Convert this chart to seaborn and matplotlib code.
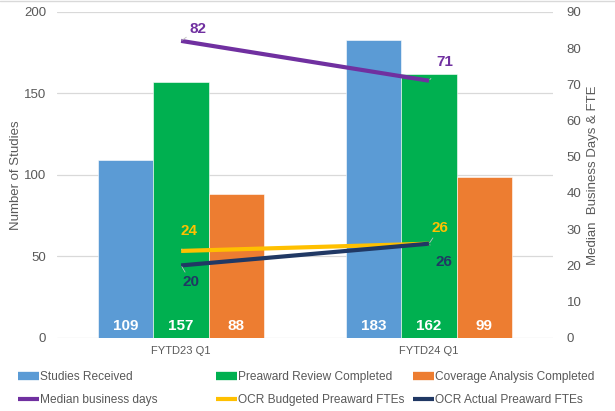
import pandas as pd
import seaborn as sns
import matplotlib.pyplot as plt
from matplotlib.lines import Line2D

# data
quarters = ['FYTD23 Q1', 'FYTD24 Q1']
bar_series = ['Studies Received', 'Preaward Review Completed', 'Coverage Analysis Completed']
studies_received = [109, 183]
preaward_completed = [157, 162]
coverage_completed = [88, 99]
median_days = [82, 71]
ocr_budgeted = [24, 26]
ocr_actual = [20, 26]

bar_colors = ['#5B9BD5', '#00B050', '#ED7D31']
line_colors = {'Median business days': '#7030A0',
               'OCR Budgeted Preaward FTEs': '#FFC000',
               'OCR Actual Preaward FTEs': '#203864'}
grey = '#595959'

df = pd.DataFrame({
    'quarter': quarters * 3,
    'series': [s for s in bar_series for _ in quarters],
    'count': studies_received + preaward_completed + coverage_completed,
})

sns.set_style('white')
plt.rcParams['font.family'] = ['Liberation Sans', 'DejaVu Sans']

fig = plt.figure(figsize=(6.15, 4.11), dpi=100)
ax = fig.add_axes([0.093, 0.178, 0.806, 0.793])

sns.barplot(data=df, x='quarter', y='count', hue='series', order=quarters,
            hue_order=bar_series, palette=bar_colors, saturation=1, width=0.67,
            edgecolor='white', linewidth=0.4, ax=ax, legend=False)
ax.set_ylim(0, 200)
ax.set_yticks([0, 50, 100, 150, 200])
ax.yaxis.grid(True, color='#d9d9d9', linewidth=0.9)
ax.set_axisbelow(True)
ax.set_xlabel('')
ax.set_ylabel('Number of Studies', color=grey, fontsize=9.5, labelpad=1)
ax.tick_params(axis='y', colors=grey, labelsize=9.5, length=0, pad=8)
ax.tick_params(axis='x', colors=grey, labelsize=8, length=0, pad=6)
for s in ax.spines.values():
    s.set_visible(False)

# white value labels at the bottom of each bar
for p in ax.patches:
    if p.get_height() > 0:
        ax.annotate(f'{int(p.get_height())}', xy=(p.get_x() + p.get_width() / 2, 0),
                    xytext=(0, 12), textcoords='offset pixels', ha='center', va='center',
                    color='white', fontsize=11, fontweight='bold')

ax2 = ax.twinx()
xs = list(range(len(quarters)))
lines = {'Median business days': median_days,
         'OCR Budgeted Preaward FTEs': ocr_budgeted,
         'OCR Actual Preaward FTEs': ocr_actual}
for name, vals in lines.items():
    sns.lineplot(x=xs, y=vals, color=line_colors[name], linewidth=3,
                 solid_capstyle='butt', ax=ax2)
ax2.set_ylim(0, 90)
ax2.set_yticks(range(0, 91, 10))
ax2.set_ylabel('Median  Business Days & FTE', color=grey, fontsize=9.5, labelpad=4)
ax2.tick_params(axis='y', colors=grey, labelsize=9.5, length=0, pad=10)
for s in ax2.spines.values():
    s.set_visible(False)
ax.set_xlim(-0.5, 1.5)

# line data labels with small leader lines
offsets = {
    'Median business days': [(17, 12), (16, 19)],
    'OCR Budgeted Preaward FTEs': [(8, 20), (11, 16)],
    'OCR Actual Preaward FTEs': [(10, -17), (15, -18)],
}
for name, vals in lines.items():
    for i, v in enumerate(vals):
        ax2.annotate(str(v), xy=(xs[i], v), xytext=offsets[name][i],
                     textcoords='offset pixels', ha='center', va='center',
                     color=line_colors[name], fontsize=11, fontweight='bold',
                     arrowprops=dict(arrowstyle='-', color='#bfbfbf', lw=0.6,
                                     shrinkA=6, shrinkB=1))

# legend: one small legend per column so the columns sit where they do in the reference
columns = [
    (0.030, [(bar_colors[0], 6, 'Studies Received'),
             (line_colors['Median business days'], 3, 'Median business days')]),
    (0.352, [(bar_colors[1], 6, 'Preaward Review Completed'),
             (line_colors['OCR Budgeted Preaward FTEs'], 3, 'OCR Budgeted Preaward FTEs')]),
    (0.672, [(bar_colors[2], 6, 'Coverage Analysis Completed'),
             (line_colors['OCR Actual Preaward FTEs'], 3, 'OCR Actual Preaward FTEs')]),
]
for x0, entries in columns:
    h = [Line2D([], [], color=c, lw=w, solid_capstyle='butt') for c, w, _ in entries]
    fig.legend(h, [t for _, _, t in entries], loc='upper left', bbox_to_anchor=(x0, 0.097),
               frameon=False, fontsize=8.6, labelcolor=grey, handlelength=1.7,
               handletextpad=0.1, labelspacing=0.95, borderaxespad=0, borderpad=0)

fig.add_artist(plt.Line2D([0, 1], [0.998, 0.998], color='#d9d9d9', lw=1,
                          transform=fig.transFigure))
fig.savefig('out.png', dpi=100)
